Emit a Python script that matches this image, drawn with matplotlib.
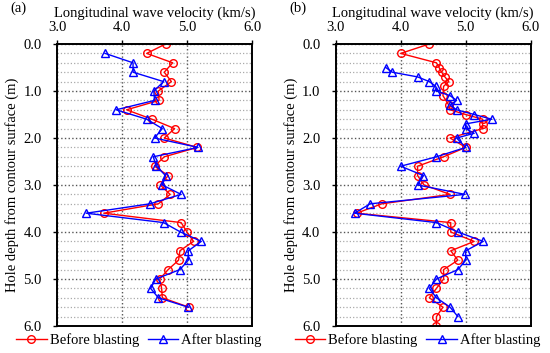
import numpy as np
import matplotlib.pyplot as plt
from matplotlib.ticker import MultipleLocator

plt.rcParams['font.family'] = ['Liberation Serif', 'DejaVu Serif']

# panel (a): readings every 0.2 m
depth_a_before = [0.0, 0.2, 0.4, 0.6, 0.8, 1.0, 1.2, 1.4, 1.6, 1.8, 2.0, 2.2, 2.4, 2.6, 2.8,
                  3.0, 3.2, 3.4, 3.6, 3.8, 4.0, 4.2, 4.4, 4.6, 4.8, 5.0, 5.2, 5.4, 5.6]
vel_a_before = [4.67, 4.38, 4.78, 4.65, 4.76, 4.56, 4.57, 4.07, 4.46, 4.81, 4.65, 5.16, 4.65, 4.50, 4.71,
                4.59, 4.74, 4.56, 3.72, 4.91, 5.00, 5.10, 4.89, 4.87, 4.71, 4.58, 4.61, 4.62, 5.03]
depth_a_after = [0.2, 0.4, 0.6, 0.8, 1.0, 1.2, 1.4, 1.6, 1.8, 2.0, 2.2, 2.4, 2.6, 2.8,
                 3.0, 3.2, 3.4, 3.6, 3.8, 4.0, 4.2, 4.4, 4.6, 4.8, 5.0, 5.2, 5.4, 5.6]
vel_a_after = [3.74, 4.17, 4.17, 4.64, 4.49, 4.50, 3.91, 4.38, 4.62, 4.50, 5.17, 4.48, 4.53, 4.67,
               4.62, 4.91, 4.43, 3.45, 4.64, 4.90, 5.22, 5.02, 5.02, 4.89, 4.52, 4.44, 4.56, 5.02]

# panel (b): denser readings near the top
depth_b_before = [0.0, 0.2, 0.4, 0.5, 0.6, 0.7, 0.8, 0.9, 1.1, 1.3, 1.4, 1.5, 1.6, 1.7, 1.8, 2.0,
                  2.2, 2.4, 2.6, 2.8, 3.0, 3.2, 3.4, 3.6, 3.8, 4.0, 4.2, 4.4, 4.6, 4.8, 5.0,
                  5.2, 5.4, 5.6, 5.8, 6.0]
vel_b_before = [4.44, 4.00, 4.55, 4.59, 4.63, 4.68, 4.74, 4.66, 4.65, 4.74, 4.76, 5.00, 5.26, 5.26, 5.26, 4.76,
                5.00, 4.66, 4.26, 4.26, 4.36, 4.76, 3.71, 3.32, 4.77, 4.77, 5.13, 4.77, 4.88, 4.66, 4.66,
                4.55, 4.44, 4.65, 4.55, 4.55]
depth_b_after = [0.5, 0.6, 0.7, 0.8, 0.9, 1.0, 1.1, 1.2, 1.3, 1.4, 1.5, 1.6, 1.7, 1.8, 1.9, 2.0,
                 2.2, 2.4, 2.6, 2.8, 3.0, 3.2, 3.4, 3.6, 3.8, 4.0, 4.2, 4.4, 4.6, 4.8, 5.0,
                 5.2, 5.4, 5.6, 5.8]
vel_b_after = [3.77, 3.87, 4.26, 4.44, 4.54, 4.55, 4.76, 4.86, 4.76, 4.86, 5.13, 5.40, 5.00, 5.00, 5.13, 4.86,
               5.00, 4.55, 4.00, 4.35, 4.26, 4.99, 3.53, 3.29, 4.55, 4.88, 5.27, 5.00, 5.00, 4.88, 4.55,
               4.44, 4.55, 4.76, 4.88]

panels = [
    ("(a)", depth_a_before, vel_a_before, depth_a_after, vel_a_after),
    ("(b)", depth_b_before, vel_b_before, depth_b_after, vel_b_after),
]

FS = 10.5
fig = plt.figure(figsize=(5.5, 3.53), dpi=100)
lefts = [57 / 550, 335.7 / 550]

for left, (tag, db, vb, da, va) in zip(lefts, panels):
    ax = fig.add_axes([left, 27 / 353, 195 / 550, 282 / 353])
    ax.plot(vb, db, color="red", lw=1, marker="o", ms=5.5, mfc="none", mew=1,
            label="Before blasting")
    ax.plot(va, da, color="blue", lw=1, marker="^", ms=5.5, mfc="none", mew=1,
            label="After blasting")

    ax.set_xlim(3, 6)
    ax.set_ylim(6, 0)
    ax.xaxis.set_major_locator(MultipleLocator(1.0))
    ax.yaxis.set_major_locator(MultipleLocator(1.0))
    ax.yaxis.set_minor_locator(MultipleLocator(0.2))
    ax.xaxis.set_major_formatter(plt.FormatStrFormatter("%.1f"))
    ax.yaxis.set_major_formatter(plt.FormatStrFormatter("%.1f"))
    ax.xaxis.tick_top()
    ax.xaxis.set_label_position("top")
    ax.tick_params(axis="both", which="major", labelsize=FS, direction="out",
                   length=3, width=1)
    ax.tick_params(axis="x", pad=4)
    ax.tick_params(axis="y", pad=8)
    ax.tick_params(axis="y", which="minor", length=0)

    ax.grid(True, which="major", color="#555555", ls=":", lw=1)
    ax.grid(True, which="minor", axis="y", color="#aaaaaa", ls=":", lw=0.9)
    ax.set_axisbelow(True)
    for s in ax.spines.values():
        s.set_linewidth(1.4)

    ax.set_xlabel("Longitudinal wave velocity (km/s)", fontsize=FS, labelpad=3)
    ax.set_ylabel("Hole depth from contour surface (m)", fontsize=FS, labelpad=3)
    ax.text(-0.24, 1.125, tag, transform=ax.transAxes, fontsize=FS,
            ha="left", va="center")

    ax.legend(loc="upper center", bbox_to_anchor=(0.42, -0.005), ncol=2, frameon=False,
              fontsize=FS, handlelength=2.1, handletextpad=0.2, columnspacing=0.6,
              borderaxespad=0)

fig.savefig("out.png", dpi=100)
